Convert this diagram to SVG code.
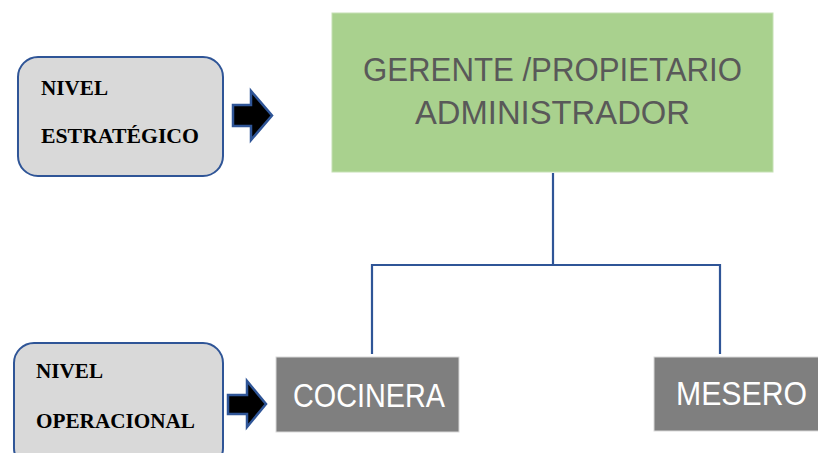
<svg xmlns="http://www.w3.org/2000/svg" width="818" height="453" viewBox="0 0 818 453">
<defs>
<style>
.lvl{fill:#d9d9d9;stroke:#2f5597;stroke-width:2}
.lvlt{font-family:"Liberation Serif","Times New Roman",serif;font-weight:bold;font-size:21.5px;fill:#000}
.arr{fill:#000;stroke:#2f5597;stroke-width:2.5;stroke-linejoin:miter}
.conn{fill:none;stroke:#2f5597;stroke-width:2.2}
.big{font-family:"Liberation Sans",Arial,sans-serif;font-size:34px}
</style>
</defs>
<rect width="818" height="453" fill="#fff"/>
<g id="nivel-estrategico">
<rect class="lvl" x="18" y="57" width="205" height="119" rx="20"/>
<text class="lvlt" x="41" y="95" textLength="67" lengthAdjust="spacingAndGlyphs">NIVEL</text>
<text class="lvlt" x="41" y="143" textLength="158" lengthAdjust="spacingAndGlyphs">ESTRATÉGICO</text>
</g>
<g id="arrow-estrategico">
<path class="arr" d="M233,105 L251,105 L251,91 L272,115.5 L251,140 L251,126 L233,126 Z"/>
</g>
<g id="nivel-operacional">
<rect class="lvl" x="14" y="343" width="209" height="125" rx="20"/>
<text class="lvlt" x="36" y="378" textLength="67" lengthAdjust="spacingAndGlyphs">NIVEL</text>
<text class="lvlt" x="36" y="428" textLength="159" lengthAdjust="spacingAndGlyphs">OPERACIONAL</text>
</g>
<g id="arrow-operacional">
<path class="arr" d="M228,395 L247,395 L247,381 L266,404 L247,427 L247,414 L228,414 Z"/>
</g>
<g id="gerente">
<rect x="332" y="13" width="441" height="159" fill="#a9d18e" stroke="#c5e0b4" stroke-width="1"/>
<text class="big" x="363" y="81" fill="#595959" textLength="379" lengthAdjust="spacingAndGlyphs">GERENTE /PROPIETARIO</text>
<text class="big" x="415" y="124" fill="#595959" textLength="275" lengthAdjust="spacingAndGlyphs">ADMINISTRADOR</text>
</g>
<g id="cocinera">
<rect x="276" y="357" width="183" height="75" fill="#7f7f7f" stroke="#d9d9d9" stroke-width="1"/>
<text class="big" x="293" y="407" fill="#fff" textLength="152" lengthAdjust="spacingAndGlyphs">COCINERA</text>
</g>
<g id="mesero">
<rect x="654" y="357" width="170" height="74" fill="#7f7f7f" stroke="#d9d9d9" stroke-width="1"/>
<text class="big" x="676" y="405" fill="#fff" textLength="131" lengthAdjust="spacingAndGlyphs">MESERO</text>
</g>
<g id="connectors">
<path class="conn" d="M553,173 L553,265"/>
<path class="conn" d="M372,354 L372,265 L720,265 L720,354"/>
</g>
</svg>
